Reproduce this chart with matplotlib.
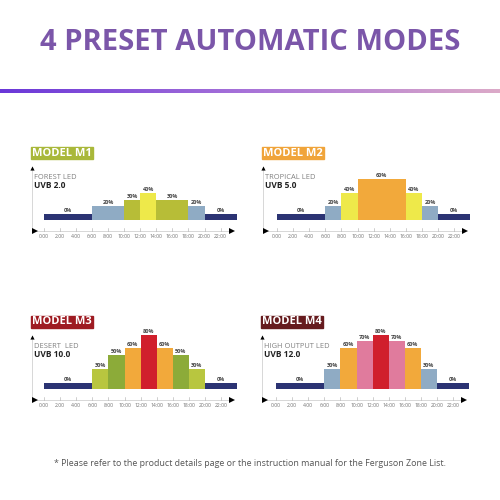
import numpy as np
import matplotlib
matplotlib.use("Agg")
import matplotlib.pyplot as plt
from matplotlib.colors import LinearSegmentedColormap
from matplotlib.patches import Rectangle

# -----------------------------------------------------------------------------
# Data
# -----------------------------------------------------------------------------
hour_ticks = [0, 2, 4, 6, 8, 10, 12, 14, 16, 18, 20, 22]
hour_labels = [f"{h}:00" for h in hour_ticks]

models = ["MODEL M1", "MODEL M2", "MODEL M3", "MODEL M4"]
led_types = ["FOREST LED", "TROPICAL LED", "DESERT  LED", "HIGH OUTPUT LED"]
uvb_labels = ["UVB 2.0", "UVB 5.0", "UVB 10.0", "UVB 12.0"]

m1_edges = [0, 6, 10, 12, 14, 18, 20, 24]
m1_values = [0, 20, 30, 40, 30, 20, 0]

m2_edges = [0, 6, 8, 10, 16, 18, 20, 24]
m2_values = [0, 20, 40, 60, 40, 20, 0]

m3_edges = [0, 6, 8, 10, 12, 14, 16, 18, 20, 24]
m3_values = [0, 30, 50, 60, 80, 60, 50, 30, 0]

m4_edges = [0, 6, 8, 10, 12, 14, 16, 18, 20, 24]
m4_values = [0, 30, 60, 70, 80, 70, 60, 30, 0]

# -----------------------------------------------------------------------------
# Colours
# -----------------------------------------------------------------------------
NAVY = "#2b3373"
BLUE = "#8fabc4"
OLIVE = "#b7bd37"
YELLOW = "#eee94a"
ORANGE = "#f2a93b"
RED = "#d01f2c"
PINK = "#e07b9d"
GREEN = "#8cab39"
LIME = "#b8c63f"

m1_colors = [NAVY, BLUE, OLIVE, YELLOW, OLIVE, BLUE, NAVY]
m2_colors = [NAVY, BLUE, YELLOW, ORANGE, YELLOW, BLUE, NAVY]
m3_colors = [NAVY, LIME, GREEN, ORANGE, RED, ORANGE, GREEN, LIME, NAVY]
m4_colors = [NAVY, BLUE, ORANGE, PINK, RED, PINK, ORANGE, BLUE, NAVY]
header_colors = ["#a9b83a", "#f0a43a", "#9e1b22", "#661b1e"]

# panel layout in pixels: (y-axis x, 0:00 x, x-axis y)
panels = [(31, 43.5, 231), (262, 277, 231), (31, 44, 400), (261, 276, 400)]
PX_PER_H = 8.05
PX_PER_PCT = 0.68
MIN_H = 9  # 0% segments are still drawn as a thin band

W = H = 500
fig = plt.figure(figsize=(5, 5), dpi=100)
fig.patch.set_facecolor("white")


def fx(x):
    return x / W


def fy(y):
    return 1 - y / H


# title
fig.text(0.5, fy(43), "4 PRESET AUTOMATIC MODES", ha="center", va="center",
         fontsize=21, fontweight="bold", family="Open Sans", color="#7b56a9")

# gradient rule under the title
gax = fig.add_axes([0, fy(93), 1, 3.5 / H])
grad = LinearSegmentedColormap.from_list("g", ["#6a37d8", "#a873d8", "#dcaac8"])
gax.imshow(np.linspace(0, 1, 256)[None, :], aspect="auto", cmap=grad)
gax.axis("off")

all_edges = [m1_edges, m2_edges, m3_edges, m4_edges]
all_values = [m1_values, m2_values, m3_values, m4_values]
all_colors = [m1_colors, m2_colors, m3_colors, m4_colors]

for i in range(4):
    yx, x0, axy = panels[i]
    edges = np.array(all_edges[i])
    vals = np.array(all_values[i])

    # axes: x in hours, y in percent; axis line sits at y=-16
    xl, xr = (yx - x0) / PX_PER_H, 24.3
    yb, yt = -17, 80
    left_px = x0 + xl * PX_PER_H
    width_px = (xr - xl) * PX_PER_H
    bottom_px = axy - 11 - yb * PX_PER_PCT
    height_px = (yt - yb) * PX_PER_PCT
    ax = fig.add_axes([fx(left_px), fy(bottom_px), width_px / W, height_px / H])
    ax.set_xlim(xl, xr)
    ax.set_ylim(yb, yt)
    ax.axis("off")

    heights = np.maximum(vals, MIN_H)
    ax.bar(edges[:-1], heights, width=np.diff(edges), align="edge",
           color=all_colors[i], edgecolor="none")
    for left, w, v, h in zip(edges[:-1], np.diff(edges), vals, heights):
        ax.text(left + w / 2, h + 1.5, f"{v}%", ha="center", va="bottom",
                fontsize=4, fontweight="bold", color="#444444", family="Open Sans")

    # axis lines with arrow heads
    ax.plot([xl + 0.1, 23.0], [-16, -16], color="#c8c8c8", lw=0.5, clip_on=False)
    ax.plot([xl + 0.1, xl + 0.1], [-16, 74], color="#c8c8c8", lw=0.5, clip_on=False)
    ax.plot([xl + 0.45], [-16], marker=">", color="black", ms=4.5, mew=0, clip_on=False)
    ax.plot([23.4], [-16], marker=">", color="black", ms=4.5, mew=0, clip_on=False)
    ax.plot([xl + 0.1], [76], marker="^", color="black", ms=3, mew=0, clip_on=False)
    for h in hour_ticks:
        ax.plot([h, h], [-15.5, -12], color="#aaaaaa", lw=0.4, clip_on=False)
    for h, lab in zip(hour_ticks, hour_labels):
        ax.text(h, -21, lab, ha="center", va="top", fontsize=3.6, color="#707070",
                family="Open Sans", clip_on=False)

    # led type and uvb label
    ax.text(xl + 0.35, 62, led_types[i], ha="left", va="center", fontsize=5.4,
            color="#808080", family="Open Sans")
    ax.text(xl + 0.35, 51, uvb_labels[i], ha="left", va="center", fontsize=6,
            color="#222222", family="Open Sans", fontweight="bold")

    # header box
    bx = yx
    by = axy - 84
    fig.patches.append(Rectangle((fx(bx), fy(by + 12)), 62 / W, 12 / H,
                                 transform=fig.transFigure, color=header_colors[i]))
    fig.text(fx(bx + 31), fy(by + 6), models[i], ha="center", va="center",
             fontsize=8, fontweight="bold", color="white", family="Open Sans")

# footnote
fig.text(0.5, fy(463), "* Please refer to the product details page or the instruction "
         "manual for the Ferguson Zone List.", ha="center", va="center",
         fontsize=6.4, color="#555555", family="Open Sans")

fig.savefig("out.png", dpi=100, facecolor="white")
